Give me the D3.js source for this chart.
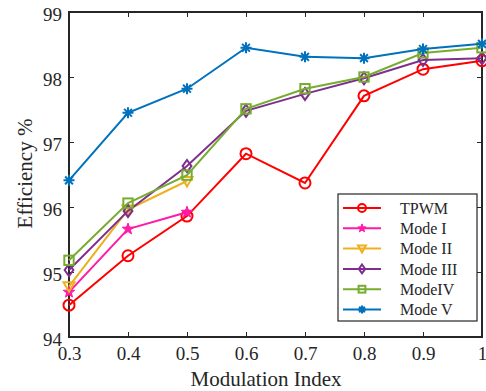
<!DOCTYPE html>
<html>
<head>
<meta charset="utf-8">
<script src="https://cdn.jsdelivr.net/npm/d3@7"></script>
<style>
  body { margin: 0; background: #fff; }
  text { font-family: "Liberation Serif", "Times New Roman", serif; fill: #262626; }
</style>
</head>
<body>
<script>
// modulation index on x, efficiency in percent on y
const mIdx = [0.3, 0.4, 0.5, 0.6, 0.7, 0.8, 0.9, 1.0];
const tpwm = [94.49, 95.25, 95.86, 96.82, 96.37, 97.71, 98.12, 98.25];
const mode1 = [94.69, 95.66, 95.92];
const mode2 = [94.78, 95.96, 96.40];
const mode3 = [95.03, 95.94, 96.63, 97.48, 97.74, 97.98, 98.26, 98.29];
const mode4 = [95.18, 96.06, 96.49, 97.51, 97.82, 98.00, 98.37, 98.45];
const mode5 = [96.41, 97.45, 97.82, 98.45, 98.31, 98.29, 98.43, 98.51];
const xTicks = [0.3, 0.4, 0.5, 0.6, 0.7, 0.8, 0.9, 1];
const yTicks = [94, 95, 96, 97, 98, 99];

const series = [
  { name: 'TPWM', vals: tpwm, color: '#ff0000', marker: 'circle' },
  { name: 'Mode I', vals: mode1, color: '#ff1aa8', marker: 'star' },
  { name: 'Mode II', vals: mode2, color: '#edb120', marker: 'tri' },
  { name: 'Mode III', vals: mode3, color: '#7e2f8e', marker: 'diamond' },
  { name: 'ModeIV', vals: mode4, color: '#77ac30', marker: 'square' },
  { name: 'Mode V', vals: mode5, color: '#0072bd', marker: 'asterisk' }
];

const width = 486, height = 391;
const margin = { top: 12, right: 4, bottom: 54, left: 69 };
const x0 = margin.left, x1 = width - margin.right;
const y0 = margin.top, y1 = height - margin.bottom;

const x = d3.scaleLinear().domain([0.3, 1]).range([x0, x1]);
const y = d3.scaleLinear().domain([94, 99]).range([y1, y0]);

const svg = d3.select('body').append('svg')
  .attr('width', width)
  .attr('height', height);

// inward ticks on all four sides
const tk = 5;
const axisCol = '#262626';
svg.append('g')
  .attr('transform', `translate(0,${y1})`)
  .call(d3.axisBottom(x).tickValues(xTicks).tickSize(-tk).tickPadding(8).tickFormat(d => d === 1 ? '1' : d3.format('.1f')(d)))
  .call(g => g.select('.domain').remove())
  .call(g => g.selectAll('line').attr('stroke', axisCol).attr('stroke-width', 1))
  .call(g => g.selectAll('text').attr('font-size', 19).attr('dy', '0.78em').attr('fill', axisCol));
svg.append('g')
  .attr('transform', `translate(0,${y0})`)
  .call(d3.axisTop(x).tickValues(xTicks).tickSize(-tk).tickFormat(''))
  .call(g => g.select('.domain').remove())
  .call(g => g.selectAll('line').attr('stroke', axisCol).attr('stroke-width', 1));
svg.append('g')
  .attr('transform', `translate(${x0},0)`)
  .call(d3.axisLeft(y).tickValues(yTicks).tickSize(-tk).tickPadding(7).tickFormat(d3.format('d')))
  .call(g => g.select('.domain').remove())
  .call(g => g.selectAll('line').attr('stroke', axisCol).attr('stroke-width', 1))
  .call(g => g.selectAll('text').attr('font-size', 19).attr('dy', '0.45em').attr('fill', axisCol));
svg.append('g')
  .attr('transform', `translate(${x1},0)`)
  .call(d3.axisRight(y).tickValues(yTicks).tickSize(-tk).tickFormat(''))
  .call(g => g.select('.domain').remove())
  .call(g => g.selectAll('line').attr('stroke', axisCol).attr('stroke-width', 1));

svg.append('rect')
  .attr('x', x0).attr('y', y0)
  .attr('width', x1 - x0).attr('height', y1 - y0)
  .attr('fill', 'none').attr('stroke', axisCol).attr('stroke-width', 2);

svg.append('text')
  .attr('x', 266).attr('y', 386)
  .attr('text-anchor', 'middle')
  .attr('font-size', 21)
  .text('Modulation Index');

svg.append('text')
  .attr('transform', `translate(32,${(y0 + y1) / 2 - 1}) rotate(-90)`)
  .attr('text-anchor', 'middle')
  .attr('font-size', 21)
  .text('Efficiency %');

// marker shapes, s = nominal size in px
function drawMarker(g, type, color, s) {
  const r = s / 2;
  if (type === 'circle') {
    g.append('circle').attr('r', r).attr('fill', 'none').attr('stroke', color).attr('stroke-width', 2);
  } else if (type === 'square') {
    g.append('rect').attr('x', -r * 0.85).attr('y', -r * 0.85).attr('width', r * 1.7).attr('height', r * 1.7)
      .attr('fill', 'none').attr('stroke', color).attr('stroke-width', 2);
  } else if (type === 'diamond') {
    g.append('path').attr('d', `M0,${-r * 1.1}L${r * 0.8},0L0,${r * 1.1}L${-r * 0.8},0Z`)
      .attr('fill', 'none').attr('stroke', color).attr('stroke-width', 2);
  } else if (type === 'tri') {
    g.append('path').attr('d', `M${-r},${-r * 0.75}L${r},${-r * 0.75}L0,${r}Z`)
      .attr('fill', 'none').attr('stroke', color).attr('stroke-width', 2);
  } else if (type === 'star') {
    const pts = d3.range(10).map(i => {
      const a = -Math.PI / 2 + i * Math.PI / 5;
      const rr = i % 2 ? r * 0.45 : r * 1.1;
      return [rr * Math.cos(a), rr * Math.sin(a)];
    });
    g.append('path').attr('d', 'M' + pts.join('L') + 'Z')
      .attr('fill', color).attr('stroke', color).attr('stroke-width', 1);
  } else if (type === 'asterisk') {
    let d = '';
    for (let i = 0; i < 4; i++) {
      const a = i * Math.PI / 4;
      d += `M${r * Math.cos(a)},${r * Math.sin(a)}L${-r * Math.cos(a)},${-r * Math.sin(a)}`;
    }
    g.append('path').attr('d', d).attr('stroke', color).attr('stroke-width', 2).attr('fill', 'none');
  }
}

const line = d3.line().x((d, i) => x(mIdx[i])).y(d => y(d));

series.forEach(s => {
  const g = svg.append('g');
  g.append('path')
    .datum(s.vals)
    .attr('d', line)
    .attr('fill', 'none')
    .attr('stroke', s.color)
    .attr('stroke-width', 2);
  s.vals.forEach((v, i) => {
    const m = g.append('g').attr('transform', `translate(${x(mIdx[i])},${y(v)})`);
    drawMarker(m, s.marker, s.color, 11);
  });
});

// legend
const lg = svg.append('g').attr('transform', 'translate(338,194)');
lg.append('rect')
  .attr('width', 139).attr('height', 127)
  .attr('fill', '#fff').attr('stroke', axisCol).attr('stroke-width', 1.2);
series.forEach((s, i) => {
  const yy = 14 + i * 20.3;
  lg.append('line').attr('x1', 5).attr('x2', 43).attr('y1', yy).attr('y2', yy)
    .attr('stroke', s.color).attr('stroke-width', 2);
  const m = lg.append('g').attr('transform', `translate(24,${yy})`);
  drawMarker(m, s.marker, s.color, 8);
  lg.append('text').attr('x', 62).attr('y', yy).attr('dy', '0.35em')
    .attr('font-size', 16).text(s.name);
});
</script>
</body>
</html>
